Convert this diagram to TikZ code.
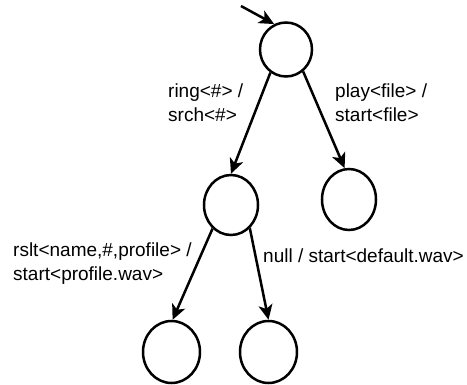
\documentclass[tikz,border=0pt]{standalone}
\usepackage{fontspec}
\setmainfont{Liberation Sans}
\usetikzlibrary{arrows.meta,shapes.geometric}
\tikzset{
  state/.style={draw=black, line width=2.5pt, ellipse, inner sep=0pt},
  trans/.style={draw=black, line width=2.5pt, -{Stealth[length=15pt,width=14pt,inset=4pt]}},
  lbl/.style={anchor=base west, inner sep=0pt, font=\fontsize{19}{24}\selectfont}
}
\begin{document}
\begin{tikzpicture}[x=1pt,y=-1pt]
\useasboundingbox[fill=white] (0,0) rectangle (467,385);
\node[state, minimum width=52pt, minimum height=54pt] (A) at (286,49.5) {};
\node[state, minimum width=54pt, minimum height=60pt] (B) at (231,205) {};
\node[state, minimum width=54pt, minimum height=61pt] (C) at (349,199.5) {};
\node[state, minimum width=57pt, minimum height=62pt] (D) at (171.5,352) {};
\node[state, minimum width=57pt, minimum height=62pt] (E) at (268.5,352) {};
\coordinate (init) at (241,6);
\draw[trans] (init) -- (A.115);
\draw[trans] (A.236) -- (B.90);
\draw[trans] (A.308) -- (C.98);
\draw[trans] (B.232) -- (D.88);
\draw[trans] (B.309) -- (E.90);
\node[lbl] (l1) at (168,98) {\begin{tabular}[t]{@{}l@{}}ring<\#> /\\ srch<\#>\end{tabular}};
\node[lbl] (l2) at (335,98) {\begin{tabular}[t]{@{}l@{}}play<file> /\\ start<file>\end{tabular}};
\node[lbl] (l3) at (13,257) {\begin{tabular}[t]{@{}l@{}}rslt<name,\#,profile> /\\ start<profile.wav>\end{tabular}};
\node[lbl] (l4) at (263,263) {null / start<default.wav>};
\end{tikzpicture}
\end{document}
